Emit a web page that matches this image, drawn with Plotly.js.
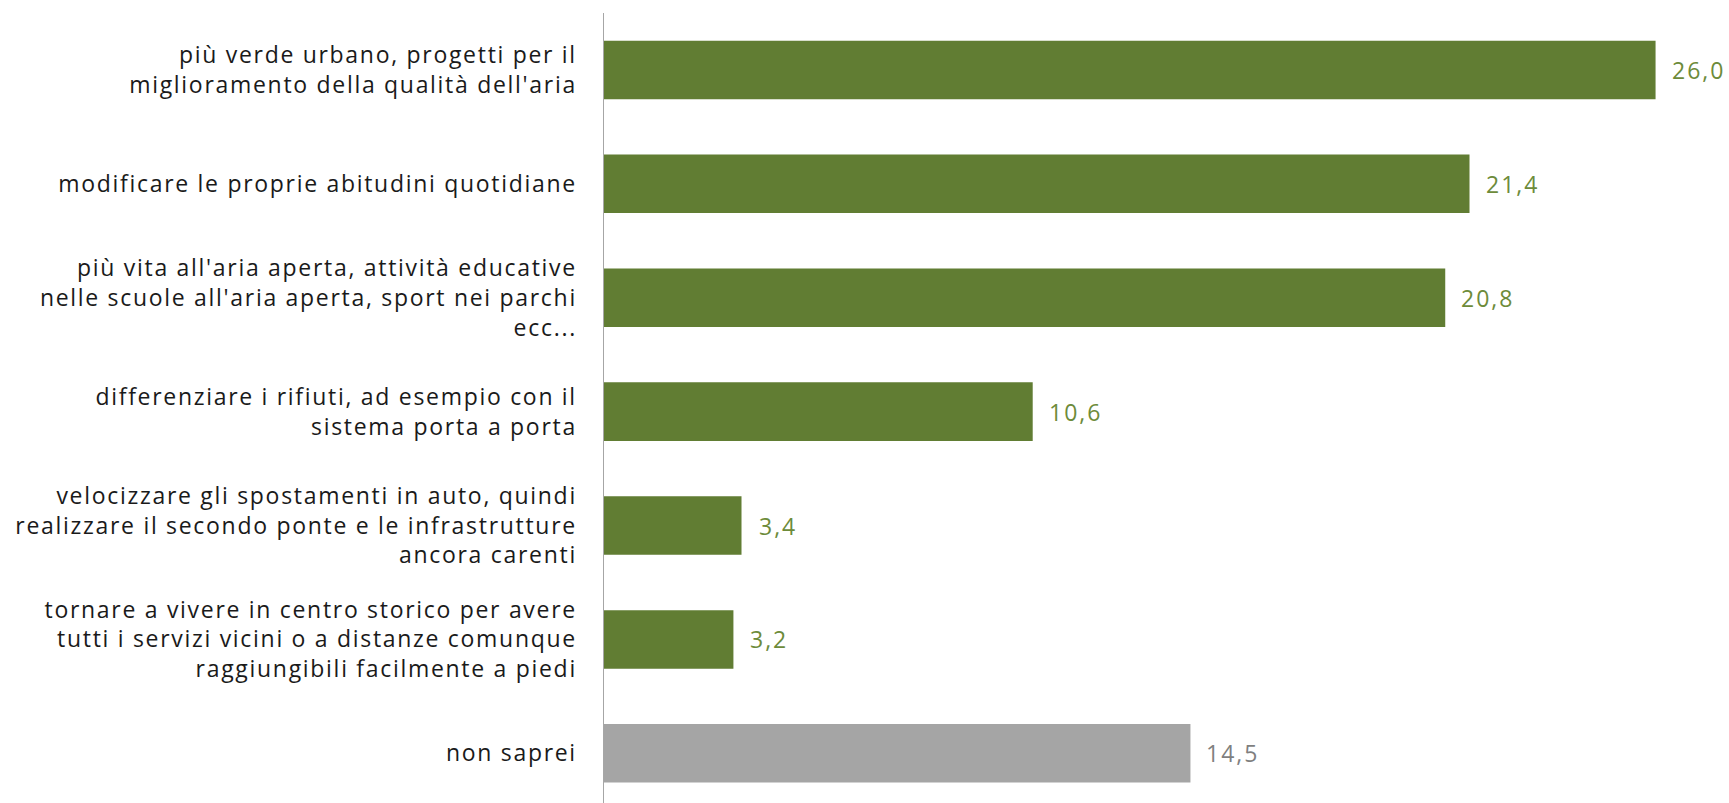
<!DOCTYPE html>
<html>
<head>
<meta charset="utf-8">
<script src="https://cdn.plot.ly/plotly-3.0.1.min.js"></script>
<style>
html,body{margin:0;padding:0;background:#fff;}
#chart{width:1729px;height:803px;}
#chart .ytick text{letter-spacing:1.7px;}
#chart .annotation-text{letter-spacing:2px;}
</style>
</head>
<body>
<div id="chart"></div>
<script>
const categories = [
  "più verde urbano, progetti per il<br>miglioramento della qualità dell'aria",
  "modificare le proprie abitudini quotidiane",
  "più vita all'aria aperta, attività educative<br>nelle scuole all'aria aperta, sport nei parchi<br>ecc...",
  "differenziare i rifiuti, ad esempio con il<br>sistema porta a porta",
  "velocizzare gli spostamenti in auto, quindi<br>realizzare il secondo ponte e le infrastrutture<br>ancora carenti",
  "tornare a vivere in centro storico per avere<br>tutti i servizi vicini o a distanze comunque<br>raggiungibili facilmente a piedi",
  "non saprei"
];
const values = [26.0, 21.4, 20.8, 10.6, 3.4, 3.2, 14.5];
const isNeutral = [false, false, false, false, false, false, true];

const barGreen = "#617d33";
const labelGreen = "#6d8b3a";
const barGray = "#a5a5a5";
const labelGray = "#7f7f7f";

const fmt = v => v.toFixed(1).replace('.', ',');

const trace = {
  type: 'bar',
  orientation: 'h',
  x: values,
  y: categories,
  width: 0.514,
  marker: { color: isNeutral.map(n => n ? barGray : barGreen) },
  hoverinfo: 'x+y'
};

const annotations = values.map((v, i) => ({
  x: v, y: categories[i], xref: 'x', yref: 'y',
  text: fmt(v), showarrow: false, xanchor: 'left', yanchor: 'middle',
  xshift: 18,
  font: { family: '"Open Sans", sans-serif', size: 23, color: isNeutral[i] ? labelGray : labelGreen }
}));

const layout = {
  width: 1729, height: 803,
  margin: { l: 604, r: 33, t: 13, b: 0, pad: 0 },
  paper_bgcolor: '#ffffff', plot_bgcolor: '#ffffff',
  showlegend: false,
  xaxis: { range: [0, 27], visible: false, fixedrange: true },
  yaxis: {
    type: 'category',
    range: [6.436, -0.5],
    showline: true, linecolor: '#a6a6a6', linewidth: 1.5,
    showgrid: false, zeroline: false, ticks: '',
    ticklabelstandoff: 21,
    tickfont: { family: '"Open Sans", sans-serif', size: 23, color: '#1a1a1a' }
  },
  annotations: annotations
};

Plotly.newPlot('chart', [trace], layout, { displayModeBar: false, staticPlot: true });
</script>
</body>
</html>
